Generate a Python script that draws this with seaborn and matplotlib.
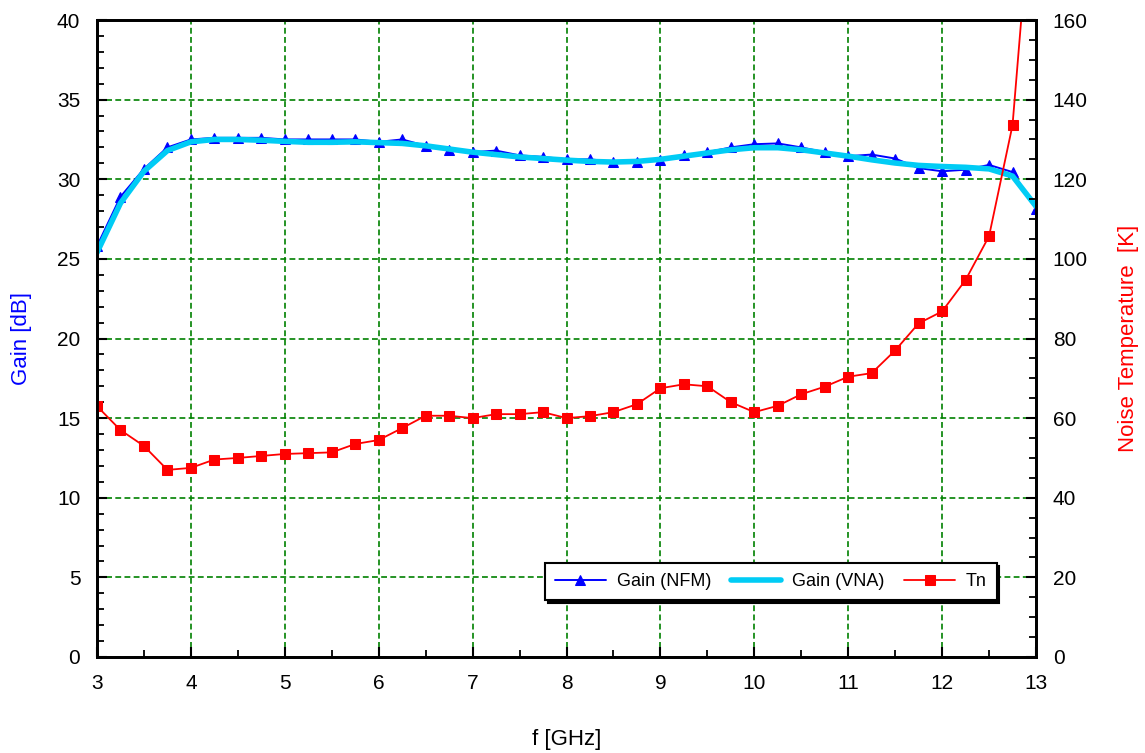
import numpy as np
import pandas as pd
import matplotlib
matplotlib.use('Agg')
import matplotlib.pyplot as plt
import seaborn as sns

# frequency grid (GHz)
freq = [3.0, 3.25, 3.5, 3.75, 4.0, 4.25, 4.5, 4.75, 5.0, 5.25, 5.5, 5.75,
        6.0, 6.25, 6.5, 6.75, 7.0, 7.25, 7.5, 7.75, 8.0, 8.25, 8.5, 8.75,
        9.0, 9.25, 9.5, 9.75, 10.0, 10.25, 10.5, 10.75, 11.0, 11.25, 11.5,
        11.75, 12.0, 12.25, 12.5, 12.75, 13.0]

# gain measured with noise figure meter (dB)
gain_nfm = [25.8, 28.9, 30.65, 32.0, 32.5, 32.6, 32.6, 32.6, 32.5, 32.5, 32.5,
            32.5, 32.35, 32.5, 32.1, 31.85, 31.7, 31.8, 31.5, 31.4, 31.25,
            31.25, 31.1, 31.1, 31.2, 31.5, 31.7, 32.0, 32.2, 32.25, 32.0,
            31.7, 31.45, 31.55, 31.3, 30.7, 30.5, 30.6, 30.9, 30.45, 28.15]

# gain measured with VNA (dB)
gain_vna = [25.4, 28.5, 30.5, 31.8, 32.35, 32.5, 32.5, 32.45, 32.38, 32.32,
            32.32, 32.35, 32.3, 32.25, 32.1, 31.9, 31.7, 31.55, 31.4, 31.3,
            31.2, 31.12, 31.08, 31.12, 31.25, 31.45, 31.65, 31.85, 31.98,
            31.98, 31.85, 31.65, 31.45, 31.22, 31.02, 30.87, 30.8, 30.75,
            30.65, 30.2, 28.3]

# noise temperature (K)
tn = [63.0, 57.0, 53.0, 47.0, 47.5, 49.6, 50.0, 50.5, 51.0, 51.2, 51.4, 53.5,
      54.5, 57.5, 60.6, 60.6, 60.0, 61.0, 61.0, 61.5, 60.0, 60.5, 61.5, 63.5,
      67.5, 68.5, 68.0, 64.0, 61.5, 63.1, 66.0, 67.9, 70.4, 71.3, 77.0, 83.8,
      86.8, 94.7, 105.7, 133.6, 205.0]

df = pd.DataFrame({'f': freq, 'nfm': gain_nfm, 'vna': gain_vna, 'tn': tn})

sns.set_style('ticks')
plt.rcParams['font.family'] = ['Liberation Sans', 'DejaVu Sans']

fig = plt.figure(figsize=(11.45, 7.53), dpi=100)
ax = fig.add_axes([97 / 1145, 1 - 657 / 753, 939 / 1145, 637 / 753])
ax2 = ax.twinx()

sns.lineplot(data=df, x='f', y='nfm', ax=ax, color='#0000ff', linewidth=1.4,
             marker='^', markersize=7, markeredgecolor='#0000ff',
             label='Gain (NFM)', legend=False, sort=False)
sns.lineplot(data=df, x='f', y='vna', ax=ax, color='#00ccf5', linewidth=4,
             label='Gain (VNA)', legend=False, sort=False)
sns.lineplot(data=df, x='f', y='tn', ax=ax2, color='#ff0000', linewidth=1.3,
             marker='s', markersize=7, markeredgecolor='#ff0000',
             label='Tn', legend=False, sort=False)

ax.set_xlim(3, 13)
ax.set_ylim(0, 40)
ax2.set_ylim(0, 160)

ax.set_xticks(np.arange(3, 14, 1))
ax.set_xticks(np.arange(3.5, 13, 1), minor=True)
ax.set_yticks(np.arange(0, 41, 5))
ax.set_yticks(np.arange(0, 41, 1), minor=True)
ax2.set_yticks(np.arange(0, 161, 20))
ax2.set_yticks(np.arange(0, 161, 5), minor=True)

ax.grid(True, which='major', color='#008000', linestyle=(0, (3.5, 2)), linewidth=1.2)
ax.set_axisbelow(True)

for a in (ax, ax2):
    a.tick_params(which='major', direction='in', length=7, width=1.5,
                  labelsize=15, pad=12, color='black', labelcolor='black')
    a.tick_params(which='minor', direction='in', length=5, width=1.3, color='black')
    for s in a.spines.values():
        s.set_visible(True)
        s.set_linewidth(2)
        s.set_color('black')

ax.set_xlabel('f [GHz]', fontsize=16, labelpad=26, color='black')
ax.set_ylabel('Gain [dB]', fontsize=16, color='#0000ff', labelpad=18)
ax2.set_ylabel('Noise Temperature  [K]', fontsize=16, color='#ff0000', labelpad=22)

handles = ax.get_lines() + ax2.get_lines()
labels = [h.get_label() for h in handles]
leg = ax2.legend(handles, labels, ncol=3, loc='lower right',
                 bbox_to_anchor=(0.958, 0.089), borderaxespad=0,
                 fontsize=13, frameon=True, fancybox=False,
                 shadow={'color': 'black', 'alpha': 1},
                 handlelength=2.8, columnspacing=1.1, borderpad=0.55,
                 handletextpad=0.6)
leg.get_frame().set_edgecolor('black')
leg.get_frame().set_linewidth(1.5)
for t in leg.get_texts():
    t.set_color('black')

fig.savefig('out.png', dpi=100)
